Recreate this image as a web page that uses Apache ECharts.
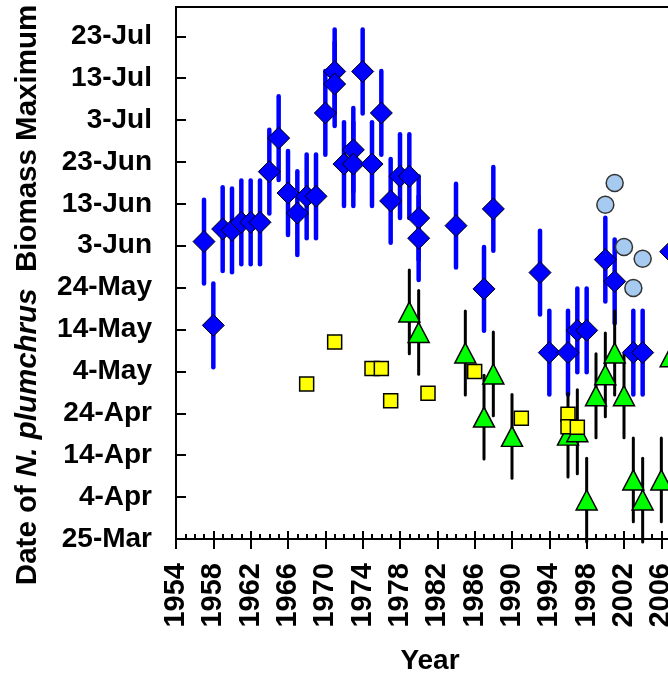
<!DOCTYPE html>
<html>
<head>
<meta charset="utf-8">
<script src="https://cdn.jsdelivr.net/npm/echarts@6/dist/echarts.min.js"></script>
<style>
html,body{margin:0;padding:0;background:#fff;}
#chart{width:668px;height:674px;}
</style>
</head>
<body>
<div id="chart"></div>
<script>
// Y values are days after 25 March; errors are +/- days.
const yTickLabels = ['25-Mar','4-Apr','14-Apr','24-Apr','4-May','14-May','24-May','3-Jun','13-Jun','23-Jun','3-Jul','13-Jul','23-Jul'];
const firstYear = 1954;

// Blue diamonds with blue error bars
const diamondYears = [1957,1958,1959,1960,1961,1962,1963,1964,1965,1966,1967,1968,1969,1970,1971,1971,1972,1973,1973,1974,1975,1976,1977,1978,1979,1980,1980,1984,1987,1988,1993,1994,1996,1997,1998,2000,2001,2003,2004,2007];
const diamondDays  = [71,51,74,73.7,75.6,75.6,75.6,87.7,95.7,82.6,77.8,81.8,81.8,101.7,111.6,108.6,89.5,92.9,89.5,111.6,89.5,101.7,80.7,86.6,86.6,76.6,71.8,74.8,59.7,78.8,63.6,44.5,44.5,49.8,49.8,66.7,61.5,44.5,44.5,68.6];
const diamondErr   = [10,10,10,10,10,10,10,10,10,10,10,10,10,10,10,10,10,10,10,10,10,10,10,10,10,10,10,10,10,10,10,10,10,10,10,10,10,10,10,10];

// Green triangles with black error bars
const triYears = [1979,1980,1985,1987,1988,1990,1996,1997,1998,1999,2000,2001,2002,2003,2004,2006,2007];
const triDays  = [54.2,49.3,44.4,29.1,39.4,24.5,24.8,25.6,9.3,34.2,39.2,44.4,34.2,14.1,9.3,14.1,43.5];
const triErr   = [10,10,10,10,10,10,10,10,10,10,10,10,10,10,10,10,10];

// Yellow squares
const sqYears = [1968,1971,1975,1976,1977,1981,1986,1991,1996,1996,1997];
const sqDays  = [37.0,47.0,40.7,40.7,33.0,34.8,40.0,28.8,29.8,26.8,26.7];

// Light blue circles
const circYears = [2000,2001,2002,2003,2004];
const circDays  = [79.8,85.0,69.7,59.9,66.9];

const FONT = '"Liberation Sans", Arial, Helvetica, sans-serif';

function pts(years, days){ return years.map((y,i)=>[y-firstYear, days[i]]); }
function bars(years, days, err){ return years.map((y,i)=>[y-firstYear, days[i]-err[i], days[i]+err[i]]); }
function barRenderer(color, width){
  return function(params, api){
    const x = api.value(0), lo = api.value(1), hi = api.value(2);
    const p1 = api.coord([x, lo]), p2 = api.coord([x, hi]);
    return {type:'line', shape:{x1:p1[0],y1:p1[1],x2:p2[0],y2:p2[1]},
      style:{stroke:color, lineWidth:width, lineCap:'round'}};
  };
}

const chart = echarts.init(document.getElementById('chart'), null, {renderer:'canvas'});
chart.setOption({
  animation:false,
  backgroundColor:'#fff',
  grid:{left:176, top:7, width:504, height:532, containLabel:false, outerBoundsMode:'none',
    show:true, borderColor:'#000', borderWidth:2, backgroundColor:'transparent'},
  xAxis:[{
    type:'value', min:0, max:54, interval:4, position:'bottom',
    axisLine:{show:true, lineStyle:{color:'#000', width:2}},
    axisTick:{show:true, inside:false, length:10, lineStyle:{color:'#000', width:2}},
    minorTick:{show:false},
    splitLine:{show:false},
    axisLabel:{rotate:90, margin:24, color:'#000', fontSize:29, fontWeight:'bold', fontFamily:FONT,
      hideOverlap:false,
      formatter:v=>(v%4===0 && v<54)?String(v+firstYear):''}
  },{
    type:'value', min:0, max:54, interval:4, position:'bottom', offset:0,
    axisLine:{show:false},
    axisTick:{show:true, inside:true, length:8, lineStyle:{color:'#000', width:2}},
    minorTick:{show:true, splitNumber:4, length:5, lineStyle:{color:'#000', width:2}},
    splitLine:{show:false},
    axisLabel:{show:false}
  }],
  yAxis:{
    type:'value', min:0, max:127, interval:10,
    axisLine:{show:true, lineStyle:{color:'#000', width:2}},
    axisTick:{show:true, inside:true, length:10, lineStyle:{color:'#000', width:2}},
    splitLine:{show:false},
    axisLabel:{margin:24, color:'#000', fontSize:28, fontWeight:'bold', fontFamily:FONT,
      formatter:v=>(v%10===0 && yTickLabels[v/10]!==undefined)?yTickLabels[v/10]:''}
  },
  graphic:[
    {type:'text', x:28, y:295, rotation:Math.PI/2,
      style:{text:'{a|Date of }{b|N. plumchrus}{a|  Biomass Maximum}', align:'center', verticalAlign:'middle', fill:'#000',
        rich:{a:{fontSize:29.5, fontWeight:'bold', fontFamily:FONT, fill:'#000'},
              b:{fontSize:29.5, fontWeight:'bold', fontStyle:'italic', fontFamily:FONT, fill:'#000'}}}},
    {type:'text', x:430, y:661,
      style:{text:'Year', align:'center', verticalAlign:'middle', fill:'#000', font:'bold 28px '+FONT}}
  ],
  series:[
    {type:'custom', name:'diamondBars', renderItem:barRenderer('#0000ff', 4.5), data:bars(diamondYears, diamondDays, diamondErr), encode:{x:0, y:[1,2]}},
    {type:'scatter', name:'diamonds', symbol:'diamond', symbolSize:22, data:pts(diamondYears, diamondDays),
      itemStyle:{color:'#0000ff', borderColor:'#000', borderWidth:1, opacity:1}},
    {type:'custom', name:'triBars', renderItem:barRenderer('#000000', 3), data:bars(triYears, triDays, triErr), encode:{x:0, y:[1,2]}},
    {type:'scatter', name:'triangles', symbol:'triangle', symbolSize:[21,20], data:pts(triYears, triDays),
      itemStyle:{color:'#00ff00', borderColor:'#000', borderWidth:1.5, opacity:1}},
    {type:'scatter', name:'squares', symbol:'rect', symbolSize:14, data:pts(sqYears, sqDays),
      itemStyle:{color:'#ffff00', borderColor:'#000', borderWidth:1.5, opacity:1}},
    {type:'scatter', name:'circles', symbol:'circle', symbolSize:17, data:pts(circYears, circDays),
      itemStyle:{color:'#a6caf0', borderColor:'#333', borderWidth:1.5, opacity:1}}
  ]
});
</script>
</body>
</html>
